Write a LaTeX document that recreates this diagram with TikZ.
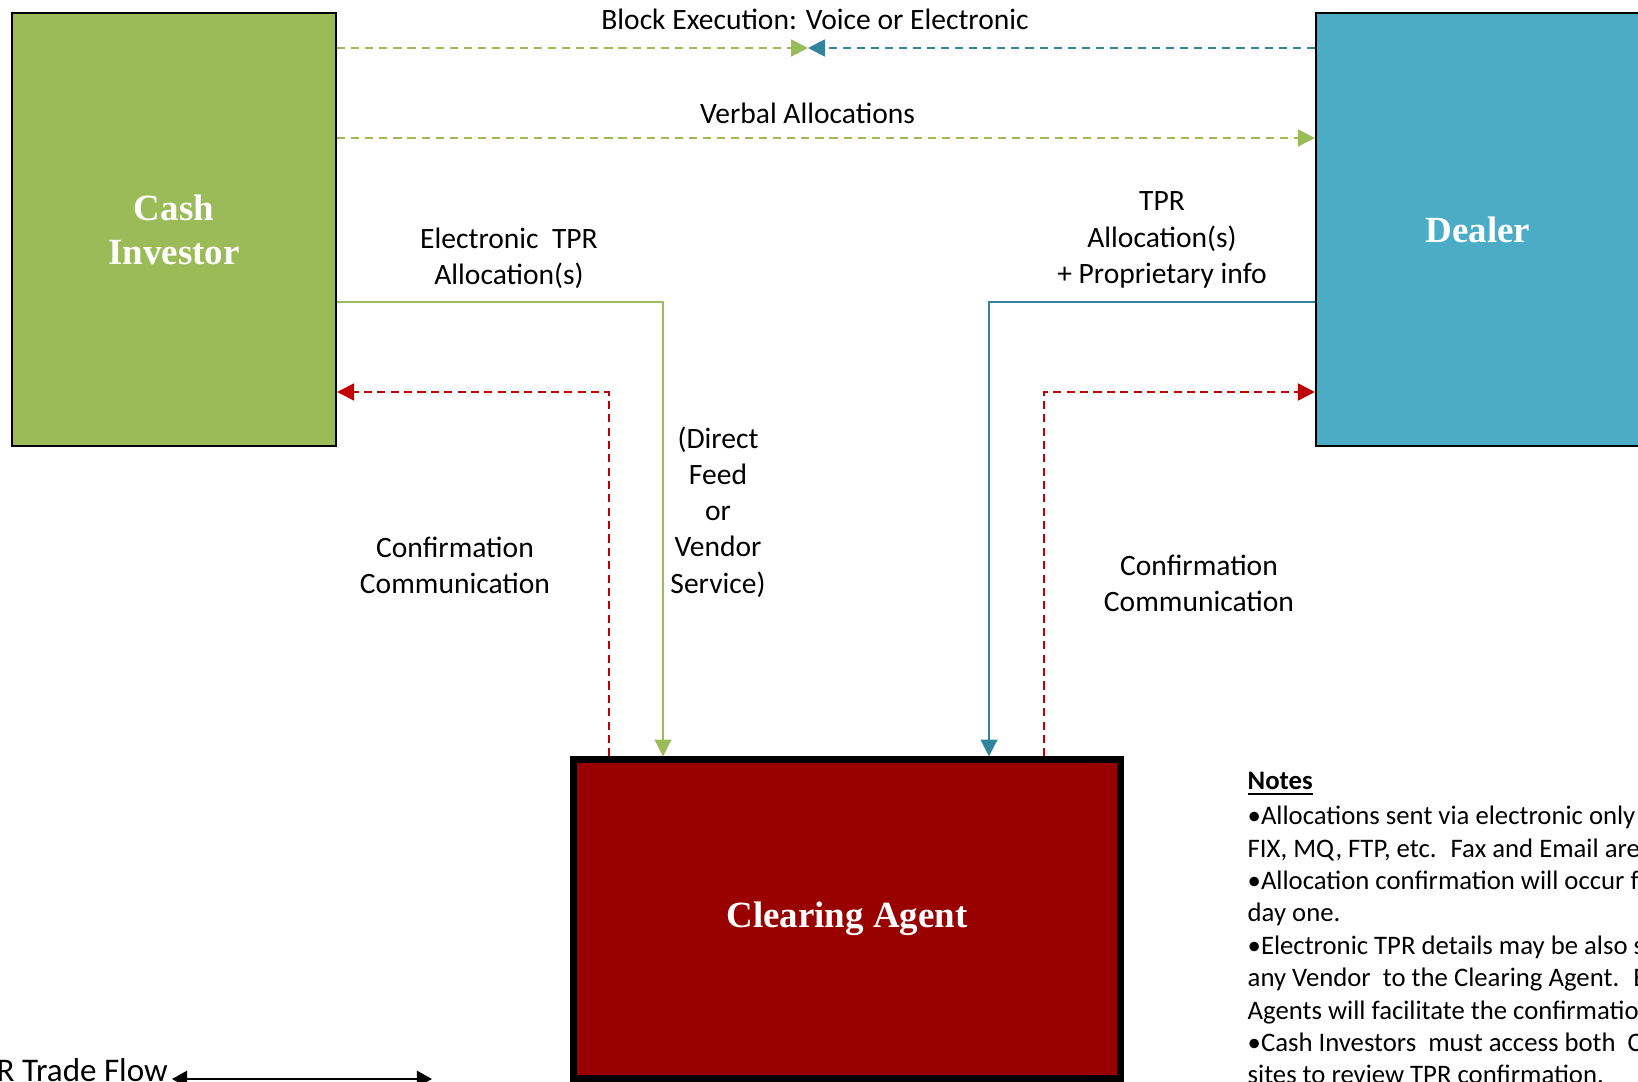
\documentclass[tikz,border=0pt]{standalone}
\usepackage{fontspec}
\setmainfont{Carlito}
\newfontfamily\partyfont{Liberation Serif}
\usetikzlibrary{arrows.meta}
\definecolor{investorgreen}{HTML}{9BBB59}
\definecolor{dealerblue}{HTML}{4BACC6}
\definecolor{dealerline}{HTML}{31849B}
\definecolor{agentred}{HTML}{990000}
\definecolor{confirmred}{HTML}{C00000}

\begin{document}
\begin{tikzpicture}[x=0.01cm,y=-0.01cm,
  party/.style={draw=black,line width=0.6pt,minimum width=3.24cm,minimum height=4.33cm,
    inner sep=0pt,text=white,align=center,font=\partyfont\bfseries\fontsize{10.5}{12.5}\selectfont},
  lbl/.style={align=center,inner sep=0pt,font=\fontsize{8.4}{10.3}\selectfont},
  tip/.style={-{Triangle[length=4.8pt,width=4.8pt]}},
  gdash/.style={investorgreen,line width=0.6pt,dash pattern=on 2.3pt off 1.7pt},
  bdash/.style={dealerline,line width=0.6pt,dash pattern=on 2.3pt off 1.7pt},
  rdash/.style={confirmred,line width=0.6pt,dash pattern=on 2.3pt off 1.5pt}]
\path[use as bounding box,clip] (0,0) rectangle (1638,1082);

\node[party,fill=investorgreen] (cash) at (174,229.5) {Cash\\Investor};
\node[party,fill=dealerblue] (dealer) at (1478,229.5) {Dealer};
\node[party,fill=agentred,line width=2pt,minimum width=5.47cm,minimum height=3.18cm] (agent) at (847,919) {Clearing Agent};

\coordinate (meet) at (808,48);
\draw[gdash,tip] (cash.east |- meet) -- (meet);
\draw[bdash,tip] (dealer.west |- meet) -- (meet);
\node[lbl] (blocklbl) at (815,19) {Block Execution: Voice or Electronic};

\draw[gdash,tip] (cash.east |- 0,138) -- (dealer.west |- 0,138);
\node[lbl] (verballbl) at (807.5,113) {Verbal Allocations};

\draw[investorgreen,line width=0.45pt,tip] (cash.east |- 0,302) -| (agent.north -| 663,0);
\node[lbl] (elecllbl) at (509,258) {Electronic~ TPR\\Allocation(s)};
\node[lbl] (feedlbl) at (718,512) {(Direct\\Feed\\or\\Vendor\\Service)};

\draw[dealerline,line width=0.45pt,tip] (dealer.west |- 0,302) -| (agent.north -| 989,0);
\node[lbl] (tprlbl) at (1162,240) {TPR\\Allocation(s)\\+ Proprietary info};

\draw[rdash,tip] (agent.north -| 609,0) |- (cash.east |- 0,392);
\draw[rdash,tip] (agent.north -| 1043.6,0) |- (dealer.west |- 0,392);
\node[lbl] (confleft) at (455,565.5) {Confirmation\\Communication};
\node[lbl] (confright) at (1199,583.5) {Confirmation\\Communication};

\node[anchor=north west,align=left,inner sep=0pt,font=\fontsize{7.6}{9.2}\selectfont] (notes) at (1247,771)
  {\underline{\textbf{Notes}}\\[1pt]
   •Allocations sent via electronic only\\
   FIX, MQ, FTP, etc.~ Fax and Email are\\
   •Allocation confirmation will occur f\\
   day one.\\
   •Electronic TPR details may be also s\\
   any Vendor~ to the Clearing Agent.~ E\\
   Agents will facilitate the confirmatio\\
   •Cash Investors~ must access both~ Cl\\
   sites to review TPR confirmation.};

\node[anchor=base east,inner sep=1pt,font=\fontsize{9.4}{11}\selectfont] (legend) at (172,1081) {R Trade Flow};
\coordinate (flowend) at (432,1079);
\draw[line width=0.65pt,{Triangle[length=4.3pt,width=4.6pt]}-{Triangle[length=4.3pt,width=4.6pt]}] (legend.east |- flowend) -- (flowend);
\end{tikzpicture}
\end{document}
